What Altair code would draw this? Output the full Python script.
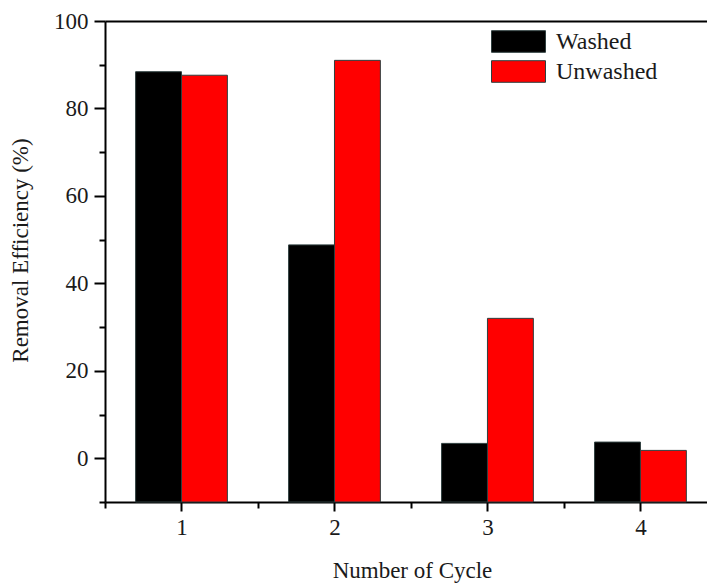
import altair as alt
import pandas as pd

cycles = [1, 2, 3, 4]
series = ["Washed", "Unwashed"]
washed = [88.4, 48.8, 3.4, 3.7]
unwashed = [87.6, 91.0, 32.0, 1.8]
colors = ["#000000", "#ff0000"]
x_tick_values = [0.5, 1, 1.5, 2, 2.5, 3, 3.5, 4]
y_tick_values = [-10, 0, 10, 20, 30, 40, 50, 60, 70, 80, 90, 100]

rows = []
for c, w, u in zip(cycles, washed, unwashed):
    rows.append({"Cycle": c, "Series": "Washed", "Value": w})
    rows.append({"Cycle": c, "Series": "Unwashed", "Value": u})
df = pd.DataFrame(rows)

FONT = "Liberation Serif"
TXT = "#1a1a1a"

base = alt.Chart(df).transform_calculate(
    x0="datum.Series == 'Washed' ? datum.Cycle - 0.3 : datum.Cycle",
    x1="datum.Series == 'Washed' ? datum.Cycle : datum.Cycle + 0.3",
)

xscale = alt.Scale(domain=[0.5, 4.435], nice=False, zero=False)
yscale = alt.Scale(domain=[-10, 100], nice=False, zero=False)

bars = base.mark_rect(stroke="#2f3f3f", strokeWidth=1).encode(
    x=alt.X(
        "x0:Q",
        scale=xscale,
        title="Number of Cycle",
        axis=alt.Axis(
            orient="bottom",
            values=x_tick_values,
            labelExpr="datum.value % 1 == 0 ? format(datum.value, 'd') : ''",
            tickSize={"condition": {"test": "datum.value % 1 == 0", "value": 9}, "value": 6},
            labelPadding=5,
            grid=False,
            titleX=307,
            titleY=75,
            titleBaseline="alphabetic",
            titleAnchor="middle",
            titleAlign="center",
        ),
    ),
    x2="x1:Q",
    y=alt.Y(
        "Value:Q",
        scale=yscale,
        title="Removal Efficiency (%)",
        axis=alt.Axis(
            orient="left",
            values=y_tick_values,
            labelExpr="datum.value % 20 == 0 ? format(datum.value, 'd') : ''",
            tickSize={"condition": {"test": "datum.value % 20 == 0", "value": 11}, "value": 6},
            labelPadding=6,
            grid=False,
            titleX=-73,
            titleY=229,
            titleAngle=-90,
            titleAlign="center",
            titleBaseline="bottom",
        ),
    ),
    y2=alt.datum(-10),
    color=alt.Color(
        "Series:N",
        scale=alt.Scale(domain=series, range=colors),
        legend=alt.Legend(
            title=None,
            orient="none",
            legendX=399.5,
            legendY=6.5,
            padding=0,
            symbolType="M-2,-0.8H2V0.8H-2Z",
            symbolSize=729,
            symbolStrokeColor="#2f3f3f",
            symbolStrokeWidth=1,
            labelFont=FONT,
            labelFontSize=24,
            labelColor=TXT,
            labelOffset=23.5,
            rowPadding=3,
        ),
    ),
)

topline = base.mark_point(opacity=0).encode(
    x=alt.X(
        "x0:Q",
        scale=xscale,
        axis=alt.Axis(orient="top", labels=False, ticks=False, domain=True, title=None, grid=False),
    ),
)

chart = alt.layer(bars, topline).properties(
    width=602,
    height=481,
    padding={"left": 105, "top": 21, "right": 0, "bottom": 82},
    autosize=alt.AutoSizeParams(type="none"),
    background="white",
).configure_view(stroke=None).configure_axis(
    labelFont=FONT,
    labelFontSize=23,
    labelColor=TXT,
    titleFont=FONT,
    titleFontSize=23,
    titleFontWeight="normal",
    titleColor=TXT,
    domainColor="#000000",
    domainWidth=2,
    tickColor="#000000",
    tickWidth=2,
)

chart.save("out.html", embed_options={"renderer": "svg", "actions": False})
